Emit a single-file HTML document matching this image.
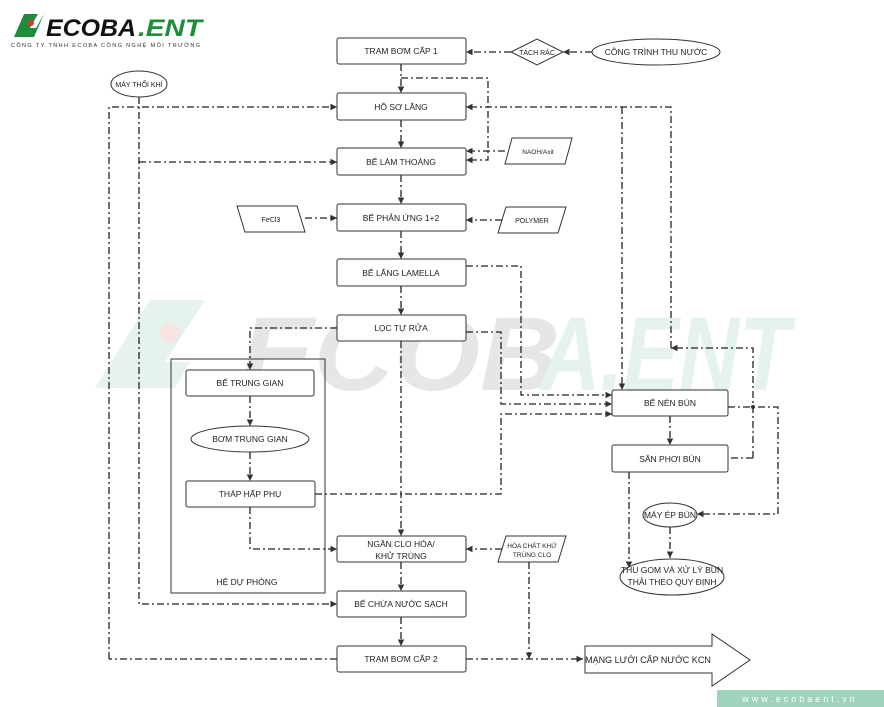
<!DOCTYPE html>
<html><head><meta charset="utf-8"><style>
body{margin:0;background:#fff;width:884px;height:707px;overflow:hidden;font-family:"Liberation Sans",sans-serif}
svg{display:block}
text{font-family:"Liberation Sans",sans-serif;font-size:8.5px;fill:#222;text-anchor:middle}
.b{fill:#fff;stroke:#333;stroke-width:1}
.d{fill:none;stroke:#222;stroke-width:1.3;stroke-dasharray:7 3 2 3}
</style></head><body>
<svg width="884" height="707" viewBox="0 0 884 707">
<defs><marker id="a" markerWidth="6" markerHeight="6" refX="5" refY="3" orient="auto"><path d="M0,0.5 L5,3 L0,5.5z" fill="#333"/></marker></defs>
<!-- watermark -->
<g opacity="0.5">
<path d="M95,388 L150,300 L205,300 L165,362 L190,362 L175,388 Z" fill="#cfe8da"/>
<circle cx="170" cy="333" r="10" fill="#f2c8c8"/>
<text x="240" y="390" style="font-size:105px;font-weight:bold;font-style:italic;fill:#cfcfcf;text-anchor:start" textLength="320" lengthAdjust="spacingAndGlyphs">ECOB</text>
<text x="540" y="390" style="font-size:105px;font-weight:bold;font-style:italic;fill:#cde8da;text-anchor:start" textLength="250" lengthAdjust="spacingAndGlyphs">A.ENT</text>
</g>
<!-- logo -->
<path d="M14,37 L24,14 L38,14 L30,28 L36,28 L44,14 L34,37 Z" fill="#1e8c3a"/>
<circle cx="31" cy="23" r="3" fill="#d33"/>
<text x="46" y="36" style="font-size:24px;font-weight:bold;font-style:italic;fill:#111;text-anchor:start" textLength="90" lengthAdjust="spacingAndGlyphs">ECOBA</text>
<text x="138" y="36" style="font-size:24px;font-weight:bold;font-style:italic;fill:#1e8c3a;text-anchor:start" textLength="64" lengthAdjust="spacingAndGlyphs">.ENT</text>
<text x="106" y="47" style="font-size:5.5px;letter-spacing:1px;fill:#333" textLength="190">CÔNG TY TNHH ECOBA CÔNG NGHỆ MÔI TRƯỜNG</text>

<!-- connectors -->
<g class="d">
<path d="M401,64 V93" marker-end="url(#a)"/>
<path d="M401,120 V148" marker-end="url(#a)"/>
<path d="M401,175 V204" marker-end="url(#a)"/>
<path d="M401,231 V259" marker-end="url(#a)"/>
<path d="M401,286 V315" marker-end="url(#a)"/>
<path d="M401,341 V536" marker-end="url(#a)"/>
<path d="M401,562 V591" marker-end="url(#a)"/>
<path d="M401,617 V646" marker-end="url(#a)"/>
<path d="M592,52 H563" marker-end="url(#a)"/>
<path d="M511,52 H466" marker-end="url(#a)"/>
<path d="M401,78 H488 V160 H466" marker-end="url(#a)"/>
<path d="M671,348 V107 H466" marker-end="url(#a)"/>
<path d="M622,107 V390" marker-end="url(#a)"/>
<path d="M505,151 H466" marker-end="url(#a)"/>
<path d="M305,218 H337" marker-end="url(#a)"/>
<path d="M502,220 H466" marker-end="url(#a)"/>
<path d="M466,266 H521 V395 H612" marker-end="url(#a)"/>
<path d="M466,332 H501 V404 H612" marker-end="url(#a)"/>
<path d="M315,494 H501 V414 H612" marker-end="url(#a)"/>
<path d="M753,458 H729"/>
<path d="M753,458 V348 H671" marker-end="url(#a)"/>
<path d="M670,416 V445" marker-end="url(#a)"/>
<path d="M728,407 H778 V514 H697" marker-end="url(#a)"/>
<path d="M629,472 V568" marker-end="url(#a)"/>
<path d="M670,527 V558" marker-end="url(#a)"/>
<path d="M139,97 V604 H337" marker-end="url(#a)"/>
<path d="M139,162 H337" marker-end="url(#a)"/>
<path d="M109,659 V107 H337" marker-end="url(#a)"/>
<path d="M337,659 H109"/>
<path d="M337,328 H250 V370" marker-end="url(#a)"/>
<path d="M250,396 V426" marker-end="url(#a)"/>
<path d="M250,452 V481" marker-end="url(#a)"/>
<path d="M250,507 V549 H337" marker-end="url(#a)"/>
<path d="M502,549 H466" marker-end="url(#a)"/>
<path d="M529,562 V659" marker-end="url(#a)"/>
<path d="M466,659 H583" marker-end="url(#a)"/>
</g>
<circle cx="753" cy="407" r="2" fill="#333"/>

<!-- HỆ DỰ PHÒNG -->
<rect x="171" y="359" width="154" height="234" fill="none" stroke="#333"/>
<text x="247" y="585">HỆ DỰ PHÒNG</text>

<!-- main boxes -->
<g>
<rect class="b" x="337" y="38" width="129" height="26" rx="2"/><text x="401" y="54">TRẠM BƠM CẤP 1</text>
<rect class="b" x="337" y="93" width="129" height="27" rx="2"/><text x="401" y="110">HỒ SƠ LẮNG</text>
<rect class="b" x="337" y="148" width="129" height="27" rx="2"/><text x="401" y="165">BỂ LÀM THOÁNG</text>
<rect class="b" x="337" y="204" width="129" height="27" rx="2"/><text x="401" y="221">BỂ PHẢN ỨNG 1+2</text>
<rect class="b" x="337" y="259" width="129" height="27" rx="2"/><text x="401" y="276">BỂ LẮNG LAMELLA</text>
<rect class="b" x="337" y="315" width="129" height="26" rx="2"/><text x="401" y="331">LỌC TỰ RỬA</text>
<rect class="b" x="337" y="536" width="129" height="26" rx="2"/><text x="401" y="547">NGĂN CLO HÓA/</text><text x="401" y="559">KHỬ TRÙNG</text>
<rect class="b" x="337" y="591" width="129" height="26" rx="2"/><text x="401" y="607">BỂ CHỨA NƯỚC SẠCH</text>
<rect class="b" x="337" y="646" width="129" height="26" rx="2"/><text x="401" y="662">TRẠM BƠM CẤP 2</text>
<rect class="b" x="186" y="370" width="128" height="26" rx="2"/><text x="250" y="386">BỂ TRUNG GIAN</text>
<ellipse class="b" cx="250" cy="439" rx="59" ry="13"/><text x="250" y="442">BƠM TRUNG GIAN</text>
<rect class="b" x="186" y="481" width="129" height="26" rx="2"/><text x="250" y="497">THÁP HẤP PHỤ</text>
<rect class="b" x="612" y="390" width="116" height="26" rx="2"/><text x="670" y="406">BỂ NÉN BÙN</text>
<rect class="b" x="612" y="445" width="116" height="27" rx="2"/><text x="670" y="462">SÂN PHƠI BÙN</text>
<ellipse class="b" cx="670" cy="515" rx="27" ry="12"/><text x="670" y="518">MÁY ÉP BÙN</text>
<ellipse class="b" cx="672" cy="577" rx="52" ry="18"/><text x="672" y="573">THU GOM VÀ XỬ LÝ BÙN</text><text x="672" y="585">THẢI THEO QUY ĐỊNH</text>
<ellipse class="b" cx="139" cy="84" rx="28" ry="13"/><text x="139" y="87" style="font-size:7px">MÁY THỔI KHÍ</text>
<path class="b" d="M511,52 L537,39 L563,52 L537,65 Z"/><text x="537" y="55" style="font-size:7px">TÁCH RÁC</text>
<ellipse class="b" cx="656" cy="52" rx="64" ry="13"/><text x="656" y="55">CÔNG TRÌNH THU NƯỚC</text>
<path class="b" d="M237,206 H297 L305,232 H245 Z"/><text x="271" y="222" style="font-size:7px">FeCl3</text>
<path class="b" d="M512,138 H572 L565,164 H505 Z"/><text x="538" y="154" style="font-size:6.5px">NAOH/Axit</text>
<path class="b" d="M506,207 H566 L558,233 H498 Z"/><text x="532" y="223" style="font-size:7px">POLYMER</text>
<path class="b" d="M506,536 H566 L558,562 H498 Z"/><text x="532" y="548" style="font-size:6.5px">HÓA CHẤT KHỬ</text><text x="532" y="557" style="font-size:6.5px">TRÙNG CLO</text>
<path class="b" d="M585,646 H712 V634 L750,660 L712,686 V673 H585 Z"/><text x="648" y="663" style="font-size:9px">MẠNG LƯỚI CẤP NƯỚC KCN</text>
</g>
<rect x="717" y="690" width="167" height="17" fill="#9fd3bc"/>
<text x="800" y="702" style="font-size:9px;fill:#fff;letter-spacing:3px">www.ecobaent.vn</text>
</svg>
</body></html>
